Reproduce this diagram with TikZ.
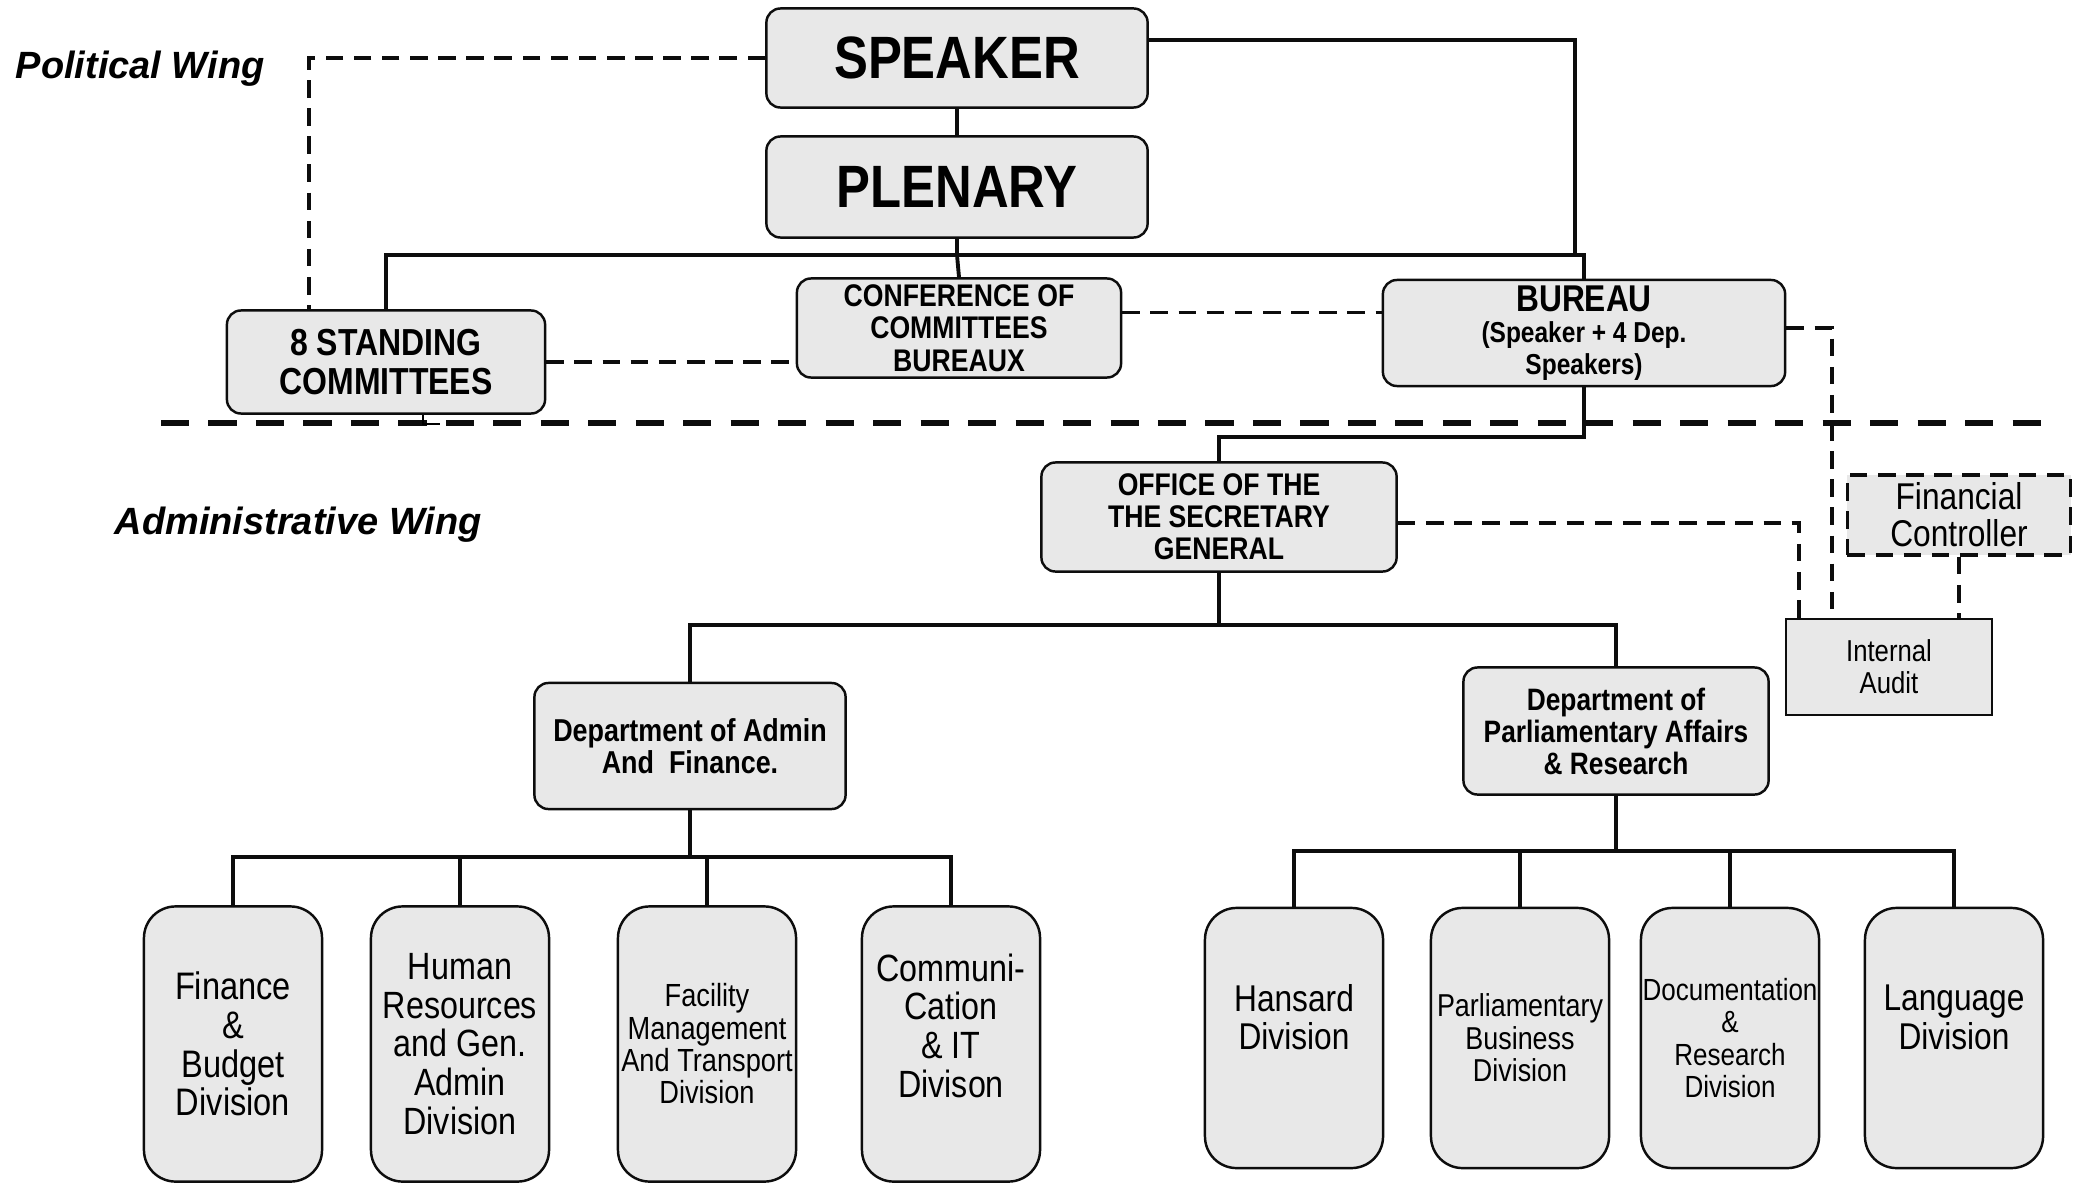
\documentclass[tikz,border=0pt]{standalone}
\usepackage{fontspec}
\setmainfont{Liberation Sans}
\newfontfamily\narrowfont{Liberation Sans}[FakeStretch=0.85]
\usetikzlibrary{calc}
\definecolor{BoxClr}{gray}{0.91}
\definecolor{LineClr}{gray}{0.05}

\begin{document}
\begin{tikzpicture}[x=0.01cm,y=-0.01cm,
  Box/.style={draw=LineClr,line width=0.7pt,fill=BoxClr,rounded corners=4pt,
    align=center,inner xsep=0pt,inner ysep=1pt},
  DivBox/.style={Box,rounded corners=9pt,minimum width=1.78cm},
  Bold/.style 2 args={font=\narrowfont\bfseries\fontsize{#1}{#2}\selectfont},
  Plain/.style 2 args={font=\narrowfont\fontsize{#1}{#2}\selectfont},
  Conn/.style={draw=LineClr,line width=1.1pt},
  Link/.style={draw=LineClr,line width=1pt,dash pattern=on 5pt off 3pt},
  WingLine/.style={draw=LineClr,line width=1.7pt,dash pattern=on 8pt off 5.5pt},
  Wing/.style={anchor=west,inner sep=0pt,font=\bfseries\itshape\fontsize{#1}{12}\selectfont}]

\useasboundingbox (0,0) rectangle (2073,1185);

% political wing
\node[Wing=10.8] (polwing) at (15,69) {Political Wing};
\node[Box,Bold={17}{18},minimum width=3.81cm,minimum height=0.99cm] (speaker) at (957,58) {SPEAKER};
\node[Box,Bold={17}{18},minimum width=3.81cm,minimum height=1.01cm] (plenary) at (957,187) {PLENARY};
\node[Box,Bold={10.7}{11.3},minimum width=3.18cm,minimum height=1.03cm] (standing) at (386,362) {8 STANDING\\COMMITTEES};
\node[Box,Bold={8.9}{9.2},minimum width=3.24cm,minimum height=0.99cm] (conf) at (959,328) {CONFERENCE OF\\COMMITTEES\\BUREAUX};
\node[Box,Bold={8.2}{8.9},minimum width=4.02cm,minimum height=1.06cm] (bureau) at (1584,333)
  {{\fontsize{10.6}{12.6}\selectfont BUREAU}\\(Speaker + 4 Dep.\\Speakers)};

% administrative wing
\node[Wing=10.8] (admwing) at (114,525) {Administrative Wing};
\node[Box,Bold={8.9}{9.1},minimum width=3.55cm,minimum height=1.09cm] (office) at (1219,517) {OFFICE OF THE\\THE SECRETARY\\GENERAL};
\node[Box,sharp corners,Plain={8.6}{9.1},minimum width=2.06cm,minimum height=0.96cm] (audit) at (1889,667) {Internal\\Audit};
\node[Box,sharp corners,Link,fill=BoxClr,Plain={10.6}{10.5},minimum width=2.23cm,minimum height=0.8cm] (finctrl) at (1959,515) {Financial\\Controller};
\node[Box,Bold={9}{9.1},minimum width=3.11cm,minimum height=1.26cm] (admin) at (690,746) {Department of Admin\\And\ \ Finance.};
\node[Box,Bold={8.8}{9.1},minimum width=3.05cm,minimum height=1.27cm] (parl) at (1616,731) {Department of\\Parliamentary Affairs\\\& Research};

% divisions
\node[DivBox,Plain={10.9}{11},minimum height=2.75cm] (fin) at (233,1044) {Finance\\\&\\Budget\\Division};
\node[DivBox,Plain={10.8}{11},minimum height=2.75cm] (hr) at (460,1044) {Human\\Resources\\and Gen.\\Admin\\Division};
\node[DivBox,Plain={9.1}{9.2},minimum height=2.75cm] (fac) at (707,1044) {Facility\\Management\\And Transport\\Division};
\node[DivBox,Plain={10.8}{11},minimum height=2.75cm,text depth=10.5pt] (comm) at (951,1044) {Communi-\\Cation\\\& IT\\Divison};
\node[DivBox,Plain={10.6}{11},minimum height=2.6cm,text depth=12pt] (hans) at (1294,1038) {Hansard\\Division};
\node[DivBox,Plain={9}{9.2},minimum height=2.6cm] (pbus) at (1520,1038) {Parliamentary\\Business\\Division};
\node[DivBox,Plain={8.7}{9.2},minimum height=2.6cm] (docu) at (1730,1038) {Documentation\\\&\\Research\\Division};
\node[DivBox,Plain={10.6}{11},minimum height=2.6cm,text depth=12pt] (lang) at (1954,1038) {Language\\Division};

% solid links
\coordinate (bus) at (957,255);
\coordinate (spk) at (1575,255);
\draw[Conn] (speaker) -- (plenary);
\draw[Conn] (plenary.south) -- (bus);
\draw[Conn] (standing.north) |- (bus) -| (bureau.north);
\draw[Conn] (bus) -- (conf.north);
\draw[Conn] ([yshift=5.1pt]speaker.east) -| (spk);

\coordinate (sgbend) at (1584,437);
\draw[Conn] (bureau.south) -- (sgbend) -| (office.north);
\coordinate (deptbus) at (1219,625);
\draw[Conn] (office.south) -- (deptbus);
\draw[Conn] (admin.north) |- (deptbus) -| (parl.north);

\coordinate (adminbus) at (690,857);
\draw[Conn] (admin.south) -- (adminbus);
\draw[Conn] (fin.north) |- (adminbus) -| (comm.north);
\draw[Conn] (hr.north) |- (adminbus);
\draw[Conn] (fac.north) |- (adminbus);

\coordinate (parlbus) at (1616,851);
\draw[Conn] (parl.south) -- (parlbus);
\draw[Conn] (hans.north) |- (parlbus) -| (lang.north);
\draw[Conn] (pbus.north) |- (parlbus);
\draw[Conn] (docu.north) |- (parlbus);

% dashed links
\draw[Link] (speaker.west) -| ([xshift=-21.9pt]standing.north);
\draw[Link] (standing.east) -- (standing.east -| conf.west);
\coordinate (cb) at ([yshift=4.4pt]conf.east);
\draw[Link] (cb) -- (cb -| bureau.west);
\coordinate (ba) at ([xshift=-16.2pt]audit.north);
\draw[Link] ([yshift=1.4pt]bureau.east) -| (ba);
\coordinate (oa) at ([xshift=-25.6pt]audit.north);
\draw[Link] ([yshift=-1.7pt]office.east) -| (oa);
\draw[Link] (finctrl.south) -- (finctrl.south |- audit.north);

% wing border
\draw[WingLine] (161,423) -- (2043,423);
\draw[line width=0.6pt] ([xshift=10.5pt]standing.south) -- ++(0,9) -- ++(17,0);

\end{tikzpicture}
\end{document}
